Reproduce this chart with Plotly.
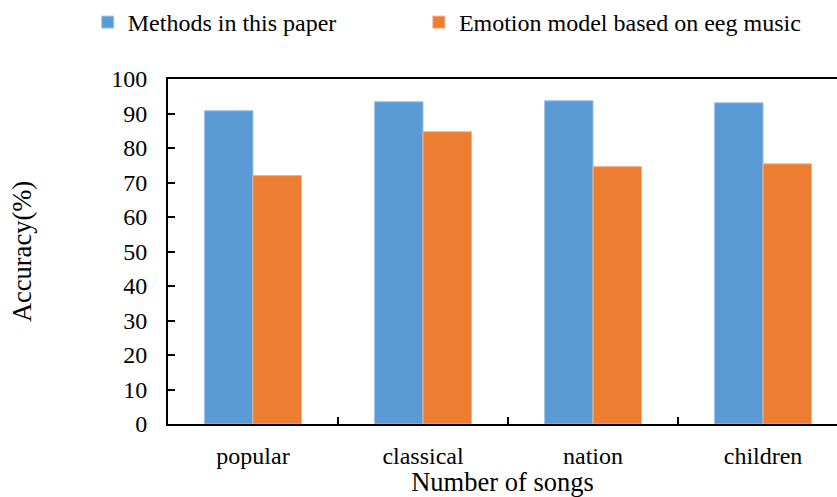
import plotly.graph_objects as go

categories = ["popular", "classical", "nation", "children"]
methods_acc = [90.8, 93.4, 93.7, 93.1]
eeg_model_acc = [72.0, 84.7, 74.6, 75.4]
y_ticks = list(range(0, 101, 10))

FONT = "Liberation Serif, Times New Roman, serif"
BLUE = "#5B9BD5"
ORANGE = "#ED7D31"

fig = go.Figure()
fig.add_trace(go.Bar(
    x=categories, y=methods_acc, name="Methods in this paper",
    marker=dict(color=BLUE, line=dict(color="#9cc3e8", width=1)),
    legend="legend",
))
fig.add_trace(go.Bar(
    x=categories, y=eeg_model_acc, name="Emotion model based on eeg music",
    marker=dict(color=ORANGE, line=dict(color="#f4b183", width=1)),
    legend="legend2",
))

legend_common = dict(
    orientation="h", yanchor="top", xanchor="left", y=1.23,
    font=dict(family=FONT, size=24, color="black"),
    itemwidth=30, bgcolor="rgba(0,0,0,0)",
)

fig.update_layout(
    width=837, height=497,
    margin=dict(l=168, r=0, t=78, b=73),
    paper_bgcolor="white", plot_bgcolor="white",
    font=dict(family=FONT, size=24, color="black"),
    barmode="group", bargap=0.43, bargroupgap=0,
    showlegend=True,
    legend=dict(x=-0.12, **legend_common),
    legend2=dict(x=0.375, **legend_common),
)

fig.update_xaxes(
    type="category",
    range=[-0.5, 3.435],
    showline=True, linecolor="black", linewidth=2, mirror=True,
    ticks="inside", ticklen=7, tickwidth=1.5, tickcolor="black",
    tickson="boundaries",
    showgrid=False, zeroline=False,
    tickfont=dict(family=FONT, size=24, color="black"),
    ticklabelstandoff=9,
    title=dict(text="Number of songs", font=dict(family=FONT, size=26.5, color="black"), standoff=5),
)
fig.update_yaxes(
    range=[0, 100],
    tickmode="array", tickvals=y_ticks,
    showline=True, linecolor="black", linewidth=2, mirror=False,
    ticks="inside", ticklen=7, tickwidth=1.5, tickcolor="black",
    showgrid=False, zeroline=False,
    tickfont=dict(family=FONT, size=24, color="black"),
    ticklabelstandoff=14,
    title=dict(text="Accuracy(%)", font=dict(family=FONT, size=26.5, color="black"), standoff=72),
)

fig.write_html("out.html")
